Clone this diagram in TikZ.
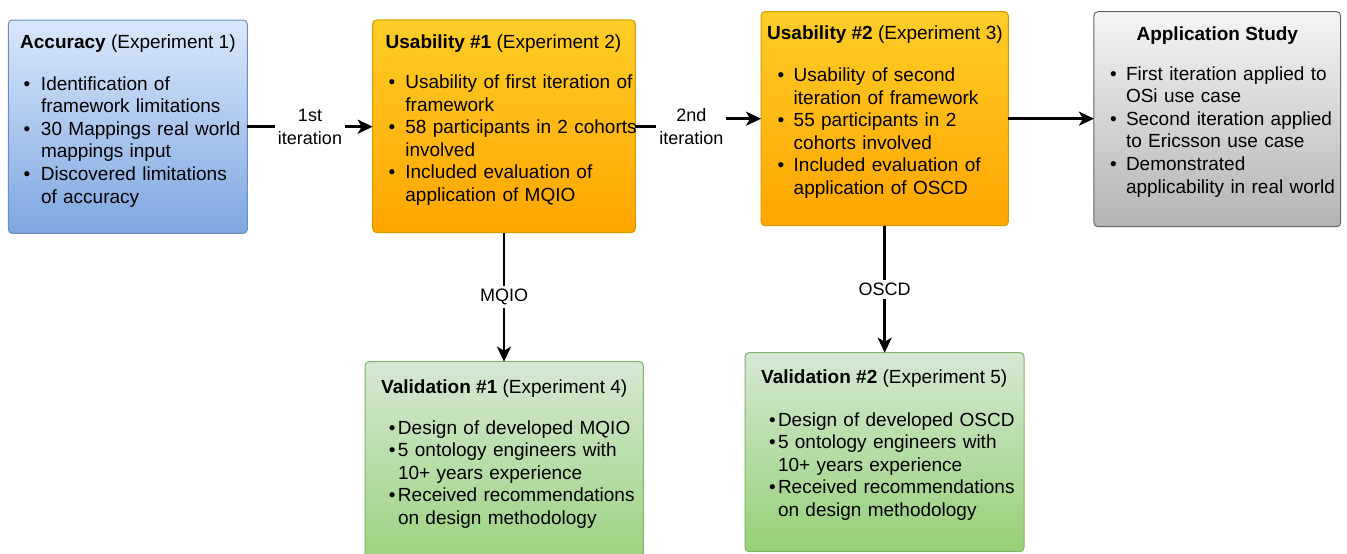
\documentclass[tikz,border=0pt]{standalone}
\usepackage{fontspec}
\setmainfont{Liberation Sans}
\usetikzlibrary{arrows.meta}

% box colours
\definecolor{blueTop}{HTML}{DAE8FC}
\definecolor{blueBot}{HTML}{7EA6E0}
\definecolor{blueLine}{HTML}{6C8EBF}
\definecolor{orangeTop}{HTML}{FFCD28}
\definecolor{orangeBot}{HTML}{FFA500}
\definecolor{orangeLine}{HTML}{D79B00}
\definecolor{greyTop}{HTML}{F5F5F5}
\definecolor{greyBot}{HTML}{B3B3B3}
\definecolor{greyLine}{HTML}{666666}
\definecolor{greenTop}{HTML}{D5E8D4}
\definecolor{greenBot}{HTML}{97D077}
\definecolor{greenLine}{HTML}{82B366}

% bullet item: bullet, then a top aligned block of lines
\newlength\bulw
\newcommand\bul[1]{\noindent\makebox[\bulw][l]{\textbullet}%
    \parbox[t]{240pt}{\raggedright #1\par\xdef\buldp{\the\prevdepth}}\par
    \prevdepth=\buldp\relax}

\begin{document}
\begin{tikzpicture}[x=1pt,y=-1pt,
    expbox/.style={rectangle, rounded corners=4pt, line width=1pt, inner sep=0pt, outer sep=0pt},
    bluebox/.style={expbox, draw=blueLine, top color=blueTop, bottom color=blueBot},
    orangebox/.style={expbox, draw=orangeLine, top color=orangeTop, bottom color=orangeBot},
    greybox/.style={expbox, draw=greyLine, top color=greyTop, bottom color=greyBot},
    greenbox/.style={expbox, draw=greenLine, top color=greenTop, bottom color=greenBot},
    ttl/.style={anchor=base west, inner sep=0pt, font=\fontsize{19}{22.6}\selectfont},
    lst/.style={anchor=base west, inner sep=0pt, align=left, text width=270pt,
        font=\fontsize{19}{22.6}\selectfont, execute at begin node={\setlength\bulw{#1}}},
    lbl/.style={fill=white, inner sep=3pt, align=center, font=\fontsize{18}{22.6}\selectfont},
    arr/.style={line width=2.5pt, -{Stealth[length=15pt,width=14pt,inset=4pt]}}]

    % Frame of the picture
    \useasboundingbox (0,0) rectangle (1347,554);
    \clip (0,0) rectangle (1347,554);
    \fill[white] (0,0) rectangle (1347,554);

    % Experiment boxes
    \node[bluebox, minimum width=239, minimum height=213.3] (acc) at (127.8,126.7) {};
    \node[orangebox, minimum width=262.6, minimum height=212.7] (us1) at (504,126.3) {};
    \node[orangebox, minimum width=247.3, minimum height=214] (us2) at (884.7,118.7) {};
    \node[greybox, minimum width=246.7, minimum height=215] (app) at (1217.3,119.2) {};
    \node[greenbox, minimum width=278.3, minimum height=218.3] (val1) at (504.2,470.8) {};
    \node[greenbox, minimum width=279, minimum height=199] (val2) at (884.5,452.2) {};

    % Titles
    \node[ttl] (acc-t) at (20,48.5) {\textbf{Accuracy} (Experiment 1)};
    \node[ttl] (us1-t) at (385.5,48.5) {\textbf{Usability \#1} (Experiment 2)};
    \node[ttl] (us2-t) at (767,39.1) {\textbf{Usability \#2} (Experiment 3)};
    \node[ttl, anchor=base] (app-t) at (1217.3,40.1) {\textbf{Application Study}};
    \node[ttl] (val1-t) at (381,393.5) {\textbf{Validation \#1} (Experiment 4)};
    \node[ttl] (val2-t) at (761,383.5) {\textbf{Validation \#2} (Experiment 5)};

    % Bullet lists
    \node[lst=17.4pt] (acc-l) at (23.4,90.1) {%
        \bul{Identification of\\framework limitations}%
        \bul{30 Mappings real world\\mappings input}%
        \bul{Discovered limitations\\of accuracy}};
    \node[lst=16.8pt] (us1-l) at (388.4,88.5) {%
        \bul{Usability of first iteration of\\framework}%
        \bul{58 participants in 2 cohorts\\involved}%
        \bul{Included evaluation of\\application of MQIO}};
    \node[lst=16.1pt] (us2-l) at (777.4,81.4) {%
        \bul{Usability of second\\iteration of framework}%
        \bul{55 participants in 2\\cohorts involved}%
        \bul{Included evaluation of\\application of OSCD}};
    \node[lst=15.8pt] (app-l) at (1110,80.1) {%
        \bul{First iteration applied to\\OSi use case}%
        \bul{Second iteration applied\\to Ericsson use case}%
        \bul{Demonstrated\\applicability in real world}};
    \node[lst=9.1pt] (val1-l) at (388.7,434.1) {%
        \bul{Design of developed MQIO}%
        \bul{5 ontology engineers with\\10+ years experience}%
        \bul{Received recommendations\\on design methodology}};
    \node[lst=8.8pt] (val2-l) at (769,426.1) {%
        \bul{Design of developed OSCD}%
        \bul{5 ontology engineers with\\10+ years experience}%
        \bul{Received recommendations\\on design methodology}};

    % Arrows between experiments
    \draw[arr] (acc.east) -- node[lbl] {1st\\iteration} (acc.east -| us1.west);
    \draw[arr] (us1.east) -- ++(56,0) node[lbl] {2nd\\iteration} |- (us2.west);
    \draw[arr] (us2.east) -- (us2.east -| app.west);
    \draw[arr] (us1.south) -- node[lbl] {MQIO} (us1.south |- val1.north);
    \draw[arr] (us2.south) -- node[lbl] {OSCD} (us2.south |- val2.north);
\end{tikzpicture}
\end{document}
